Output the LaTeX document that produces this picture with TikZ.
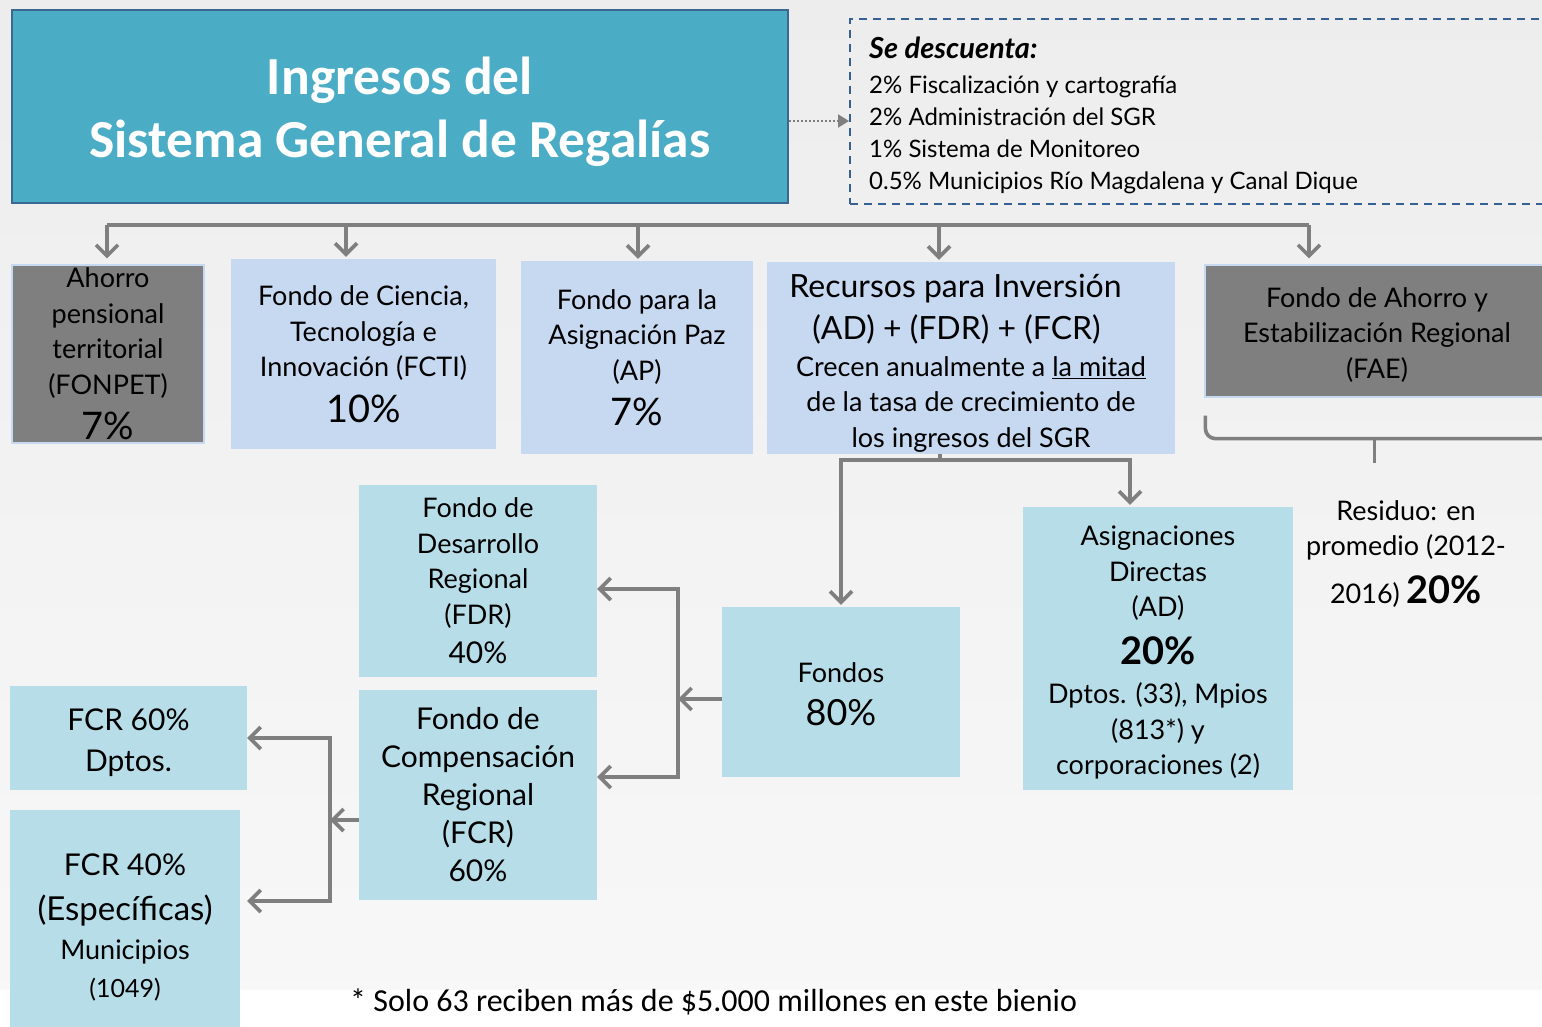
\documentclass[tikz,border=0pt]{standalone}
\usepackage{fontspec}
\setmainfont{Lato}
\newfontfamily\calib{Carlito}
\usetikzlibrary{arrows.meta,calc}
\definecolor{titlefill}{HTML}{4BACC6}
\definecolor{titleborder}{HTML}{3A6891}
\definecolor{lblue}{HTML}{C6D9F1}
\definecolor{lteal}{HTML}{B7DEE8}
\definecolor{gbox}{HTML}{7F7F7F}
\definecolor{arr}{HTML}{7F7F7F}
\definecolor{dashc}{HTML}{366092}
\definecolor{bgtop}{HTML}{EDEDED}
\definecolor{bgbot}{HTML}{F8F8F8}
\newcommand\fsN{\fontsize{27}{35.5}\selectfont}
\newcommand\fsM{\fontsize{30}{38}\selectfont}
\newcommand\fsL{\fontsize{38}{42}\selectfont}
\begin{document}
\begin{tikzpicture}[x=1pt,y=-1pt,
  box/.style={inner sep=0pt},
  lb/.style={box, fill=lblue},
  tb/.style={box, fill=lteal},
  gb/.style={box, fill=gbox, draw=lblue, line width=1.2pt},
  txt/.style={inner sep=0pt, align=center, font=\fsN, text=black},
  gline/.style={draw=arr, line width=3.6pt},
  garrow/.style={gline, -{Straight Barb[length=11pt,width=22pt]}},
  dotarrow/.style={draw=arr, line width=2pt, dotted, -{Triangle[length=11pt,width=13pt]}}]
\useasboundingbox (0,0) rectangle (1542,1027);
\clip (0,0) rectangle (1542,1027);
\fill[top color=bgtop, bottom color=bgbot] (0,0) rectangle (1542,1027);
\fill[white] (0,990) rectangle (1542,1027);

% title and deductions
\node[fill=titlefill, draw=titleborder, line width=1.5pt, minimum width=776pt, minimum height=193pt] (title) at (400,106.5) {};
\node[txt, text=white, font=\calib\bfseries\fontsize{53.5}{63}\selectfont] (titleT) at ($(title.center)+(0,5)$)
  {Ingresos del\\Sistema General de Regalías};
\node[draw=dashc, line width=2pt, dash pattern=on 8pt off 6pt, minimum height=185pt,
  minimum width=700pt, anchor=north west] (desc) at (849,18) {};
\node[txt, align=left, anchor=west, font=\fontsize{24}{32}\selectfont] (descT) at ($(desc.west)+(20,4)$)
  {{\fontsize{29}{32}\selectfont\bfseries\itshape Se descuenta:}\\[3pt]
   2\% Fiscalización y cartografía\\
   2\% Administración del SGR\\
   1\% Sistema de Monitoreo\\
   0.5\% Municipios Río Magdalena y Canal Dique};
\draw[dotarrow] (title.east |- 0,121) -- (desc.west |- 0,121);

% second row
\node[gb, minimum width=192pt, minimum height=178pt] (fonpet) at (108,354) {};
\node[txt] (fonpetT) at (fonpet.center)
  {Ahorro\\pensional\\territorial\\(FONPET)\\[10pt]{\fsL 7\%}};
\node[lb, minimum width=265pt, minimum height=190pt] (fcti) at (363.5,354) {};
\node[txt] (fctiT) at (fcti.center)
  {Fondo de Ciencia,\\Tecnología e\\Innovación (FCTI)\\[10pt]{\fsL 10\%}};
\node[lb, minimum width=232pt, minimum height=193pt] (ap) at (637,357.5) {};
\node[txt] (apT) at (ap.center)
  {Fondo para la\\Asignación Paz\\(AP)\\[10pt]{\fsL 7\%}};
\node[lb, minimum width=408pt, minimum height=192pt] (rec) at (971,358) {};
\node[txt] (recT) at ($(rec.center)+(0,5)$)
  {{\fontsize{32}{42}\selectfont Recursos para Inversión\rule{31pt}{0pt}}\\[7pt]
   {\fontsize{32}{40}\selectfont (AD) + (FDR) + (FCR)\rule{29pt}{0pt}}\\[1pt]
   Crecen anualmente a \underline{la mitad}\\
   de la tasa de crecimiento de\\
   los ingresos del SGR};
\node[gb, minimum width=340pt, minimum height=132pt] (fae) at (1375,331) {};
\node[txt] (faeT) at ($(fae.center)+(2,4)$)
  {Fondo de Ahorro y\\Estabilización Regional\\(FAE)};

% bus
\coordinate (bA) at (107,225);
\coordinate (bB) at (346,225);
\coordinate (bC) at (638,225);
\coordinate (bD) at (939,225);
\coordinate (bE) at (1309,225);
\draw[gline] (bA) -- (bE);
\draw[garrow, shorten >=6pt] (bA) -- (bA |- fonpet.north);
\draw[garrow, shorten >=2pt] (bB) -- (bB |- fcti.north);
\draw[garrow, shorten >=2pt] (bC) -- (bC |- ap.north);
\draw[garrow, shorten >=2pt] (bD) -- (bD |- rec.north);
\draw[garrow, shorten >=6pt] (bE) -- (bE |- fae.north);

% FAE brace and residue
\draw[gline, rounded corners=10pt] ($(fae.south west)+(1,18)$) -- ($(fae.south west)+(1,41)$) -- ($(fae.south east)+(10,41)$);
\draw[gline] ($(fae.south west)+(170,41)$) -- ($(fae.south west)+(170,65)$);
\node[txt] (resid) at (1406,554)
  {Residuo: en\\promedio (2012-\\[12pt]2016) {\fsL\bfseries 20\%}};

% third row
\node[tb, minimum width=238pt, minimum height=170pt] (fondos) at (841,692) {};
\node[txt] (fondosT) at ($(fondos.center)+(0,2)$)
  {Fondos\\[8pt]{\fontsize{36}{40}\selectfont 80\%}};
\node[tb, minimum width=270pt, minimum height=283pt] (ad) at (1158,648.5) {};
\node[txt] (adT) at ($(ad.center)+(0,4)$)
  {Asignaciones\\Directas\\(AD)\\[12pt]{\fsL\bfseries 20\%}\\[4pt]Dptos. (33), Mpios\\(813*) y\\corporaciones (2)};
\node[tb, minimum width=238pt, minimum height=192pt] (fdr) at (478,581) {};
\node[txt] (fdrT) at (fdr.center)
  {Fondo de\\Desarrollo\\Regional\\(FDR)\\[4pt]{\fsM 40\%}};
\node[tb, minimum width=238pt, minimum height=210pt] (fcr) at (478,795) {};
\node[txt, font=\fsM] (fcrT) at (fcr.center)
  {Fondo de\\Compensación\\Regional\\(FCR)\\60\%};
\node[tb, minimum width=237pt, minimum height=104pt] (fcrA) at (128.5,738) {};
\node[txt, font=\fsM] (fcrAT) at ($(fcrA.center)+(0,5)$)
  {FCR 60\%\\[3pt]Dptos.};
\node[tb, minimum width=230pt, minimum height=220pt] (fcrB) at (125,920) {};
\node[txt] (fcrBT) at ($(fcrB.center)+(0,7.5)$)
  {{\fsM FCR 40\%}\\[9pt]{\fontsize{33}{44}\selectfont (Específicas)}\\[4pt]Municipios\\[2pt]{\fontsize{25}{36}\selectfont (1049)}};

% connectors from Recursos
\coordinate (rj) at (940,460);
\draw[gline] (rj |- rec.south) -- (rj);
\draw[garrow, shorten >=2pt] (rj) -| (fondos.north);
\draw[garrow, shorten >=2pt] (rj) -| ([xshift=-28pt]ad.north);

% from Fondos
\coordinate (vj) at (678,699);
\coordinate (vt) at (678,589);
\coordinate (vb) at (678,777);
\draw[garrow] (fondos.west |- vj) -- (vj);
\draw[garrow] (vb) -- (vt) -- (vt -| fdr.east);
\draw[garrow] (vt) -- (vb) -- (vb -| fcr.east);

% from FCR
\coordinate (wj) at (330,820);
\coordinate (wt) at (330,738);
\coordinate (wb) at (330,901);
\draw[garrow] (wj -| fcr.west) -- (wj);
\draw[garrow] (wb) -- (wt) -- (wt -| fcrA.east);
\draw[garrow] (wt) -- (wb) -- (wb -| fcrA.east);

% footnote
\node[font=\calib\fontsize{32}{36}\selectfont, anchor=west, inner sep=0pt] (foot) at (350,1002)
  {* Solo 63 reciben más de \$5.000 millones en este bienio};
\end{tikzpicture}
\end{document}
